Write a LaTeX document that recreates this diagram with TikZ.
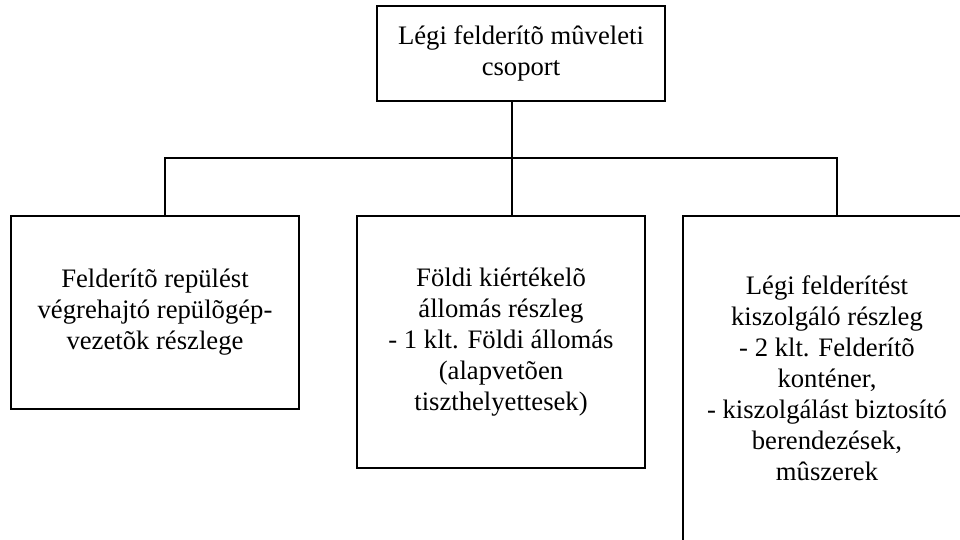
\documentclass[tikz,border=0pt]{standalone}
\usepackage{fontspec}
\setmainfont{Liberation Serif}
\begin{document}
\begin{tikzpicture}[x=0.75pt,y=-0.75pt,
  unit/.style={draw, line width=1.2pt, inner sep=0pt, minimum width=216pt,
    align=center, font=\fontsize{20}{23.25}\selectfont},
  link/.style={line width=1.2pt}]
\useasboundingbox (0,0) rectangle (960,539);
\clip (0,0) rectangle (960,539);

% headquarters box
\node[unit, minimum height=71.25pt] (hq) at (521,53.5)
  {Légi felderítõ mûveleti\\csoport};

% subordinate sections
\node[unit, minimum height=144.75pt] (pilots) at (155,312.5)
  {Felderítõ repülést\\végrehajtó repülõgép-\\vezetõk részlege};
\node[unit, minimum height=189pt] (ground) at (501,342)
  {Földi kiértékelõ\\állomás részleg\\- 1 klt. Földi állomás\\(alapvetõen\\tiszthelyettesek)};
\node[unit, minimum height=243.75pt] (service) at (827,378.5)
  {Légi felderítést\\kiszolgáló részleg\\- 2 klt. Felderítõ\\konténer,\\- kiszolgálást biztosító\\berendezések,\\mûszerek};

% branching bus
\coordinate (hub) at (512,158);
\coordinate (busL) at (165,158);
\coordinate (busR) at (837,158);

\draw[link] (hq.south -| hub) -- (ground.north -| hub);
\draw[link] (pilots.north -| busL) -- (busL) -- (busR) -- (service.north -| busR);
\end{tikzpicture}
\end{document}
